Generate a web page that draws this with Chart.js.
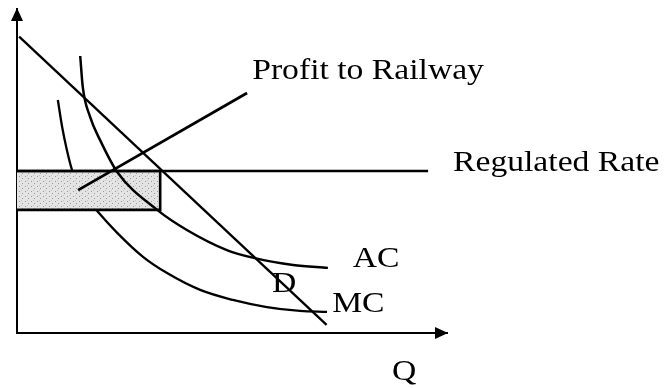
<!DOCTYPE html>
<html>
<head>
<meta charset="utf-8">
<script src="https://cdn.jsdelivr.net/npm/chart.js@4"></script>
<style>
    html, body { margin: 0; padding: 0; background: #fff; }
    #wrap { width: 668px; height: 388px; }
</style>
</head>
<body>
<div id="wrap"><canvas id="chart"></canvas></div>
<script>
// Q on the x axis, price on the y axis, both read on a 0-100 scale
const demandQ = [0.5, 72];
const demandP = [91.5, 2.5];

const acQ = [14.7, 15.3, 17.0, 19.3, 23.3, 32.6, 39.5, 48.8, 55.3, 64.2, 72.3];
const acP = [85.5, 75.9, 66.7, 59.6, 49.7, 38.0, 31.8, 25.6, 23.1, 21.0, 20.1];

const mcQ = [9.5, 10.5, 11.6, 12.8, 14.7, 18.6, 23.3, 29.3, 34.9, 42.6, 50.2, 58.1, 65.8, 72.1];
const mcP = [71.9, 63.6, 56.5, 50.3, 44.1, 37.7, 30.9, 23.5, 18.5, 13.3, 10.2, 8.0, 6.8, 6.5];

const rateQ = [0, 95.6];
const regulatedRate = 50;

const profitQ = [0, 33.3];
const profitLow = 38;

const pointerQ = [14.2, 53.5];
const pointerP = [44.1, 74.1];

// text labels and where they sit (data units)
const labels = [
    { text: 'Profit to Railway', q: 54.7, p: 78.4 },
    { text: 'Regulated Rate', q: 101.4, p: 49.9 },
    { text: 'AC', q: 78.1, p: 20.4 },
    { text: 'MC', q: 73.3, p: 6.5 },
    { text: 'D', q: 59.3, p: 12.7 },
    { text: 'Q', q: 87.2, p: -14.5 }
];

function zip(xs, ys) {
    return xs.map((x, i) => ({ x: x, y: ys[i] }));
}

// speckled grey fill for the profit box
function speckle() {
    const c = document.createElement('canvas');
    c.width = 6; c.height = 5;
    const g = c.getContext('2d');
    g.fillStyle = '#e4e4e4';
    g.fillRect(0, 0, 6, 5);
    g.fillStyle = '#9a9a9a';
    g.fillRect(1, 1, 1, 1);
    g.fillRect(4, 3, 1, 1);
    g.fillStyle = '#c4c4c4';
    g.fillRect(3, 0, 1, 1);
    return g.createPattern(c, 'repeat');
}

const line = (data, width) => ({
    data: data,
    showLine: true,
    borderColor: '#000',
    borderWidth: width,
    pointRadius: 0,
    fill: false
});

const extras = {
    id: 'extras',
    afterDraw(chart) {
        const ctx = chart.ctx;
        const xs = chart.scales.x, ys = chart.scales.y;
        const ox = xs.getPixelForValue(0), oy = ys.getPixelForValue(0);
        const tx = xs.getPixelForValue(100), ty = ys.getPixelForValue(100);
        ctx.save();
        ctx.fillStyle = '#000';
        // arrow heads
        ctx.beginPath();
        ctx.moveTo(ox, ty - 1);
        ctx.lineTo(ox - 6, ty + 12);
        ctx.lineTo(ox + 6, ty + 12);
        ctx.closePath();
        ctx.fill();
        ctx.beginPath();
        ctx.moveTo(tx + 1, oy);
        ctx.lineTo(tx - 12, oy - 6);
        ctx.lineTo(tx - 12, oy + 6);
        ctx.closePath();
        ctx.fill();
        // labels, widened a little like the scanned serif face
        ctx.font = '29px "Liberation Serif", "DejaVu Serif", serif';
        ctx.textBaseline = 'alphabetic';
        ctx.textAlign = 'left';
        labels.forEach(l => {
            ctx.save();
            ctx.translate(xs.getPixelForValue(l.q), ys.getPixelForValue(l.p));
            ctx.scale(1.16, 1);
            ctx.fillText(l.text, 0, 0);
            ctx.restore();
        });
        ctx.restore();
    }
};

// later datasets are painted first, so MC sits under the shaded box
new Chart(document.getElementById('chart'), {
    type: 'scatter',
    data: {
        datasets: [
            line(zip(pointerQ, pointerP), 2.8),
            line(zip(demandQ, demandP), 2.3),
            Object.assign(line(zip(acQ, acP), 2.5), { cubicInterpolationMode: 'monotone' }),
            line(zip(rateQ, [regulatedRate, regulatedRate]), 2.6),
            line(zip([0, profitQ[1], profitQ[1], 0], [profitLow, profitLow, regulatedRate, regulatedRate]), 2.6),
            {
                data: zip(profitQ, [regulatedRate, regulatedRate]),
                showLine: true,
                borderWidth: 0,
                pointRadius: 0,
                backgroundColor: speckle(),
                fill: { value: profitLow }
            },
            Object.assign(line(zip(mcQ, mcP), 2.3), { cubicInterpolationMode: 'monotone' })
        ]
    },
    options: {
        responsive: true,
        maintainAspectRatio: false,
        animation: false,
        layout: { padding: { left: 17, top: 9, right: 221, bottom: 55 } },
        plugins: { legend: { display: false }, tooltip: { enabled: false } },
        scales: {
            x: {
                type: 'linear', min: 0, max: 100,
                ticks: { display: false },
                grid: { display: false, drawTicks: false },
                border: { display: true, color: '#000', width: 2 },
                afterFit: s => { s.height = 0; }
            },
            y: {
                type: 'linear', min: 0, max: 100,
                ticks: { display: false },
                grid: { display: false, drawTicks: false },
                border: { display: true, color: '#000', width: 2 },
                afterFit: s => { s.width = 0; }
            }
        }
    },
    plugins: [extras]
});
</script>
</body>
</html>
